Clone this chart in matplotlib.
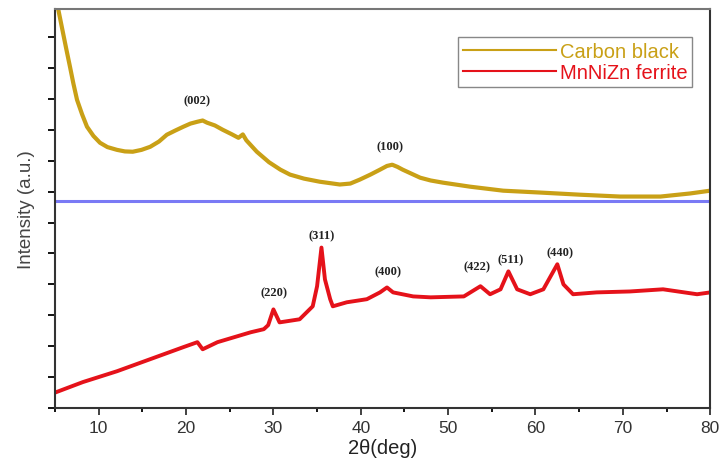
import matplotlib.pyplot as plt
from matplotlib.ticker import MultipleLocator, NullFormatter

plt.rcParams['font.family'] = ['Liberation Sans', 'DejaVu Sans']

# carbon black pattern (2theta, intensity a.u.)
cbAngle = [5.0, 5.34, 5.92, 6.3, 6.72, 7.1, 7.52, 8.1, 8.66, 9.4, 10.15, 11.0, 12.1,
           13.0, 13.9, 14.9, 15.9, 16.9, 17.8, 18.8, 19.7, 20.5, 21.3, 21.9, 22.4,
           23.3, 24.2, 25.2, 26.0, 26.5, 26.9, 28.1, 29.5, 30.8, 31.9, 33.5, 35.3,
           37.6, 38.8, 39.9, 41.1, 42.2, 43.0, 43.6, 44.2, 44.8, 45.8, 46.8, 48.0,
           49.4, 52.5, 56.3, 60.5, 65.1, 69.7, 74.3, 77.7, 80.0]
cbInt = [13.2, 12.94, 12.13, 11.6, 11.03, 10.5, 9.97, 9.5, 9.10, 8.8, 8.58, 8.44, 8.35,
         8.30, 8.29, 8.35, 8.45, 8.62, 8.84, 8.98, 9.10, 9.20, 9.26, 9.30, 9.23,
         9.14, 9.0, 8.86, 8.74, 8.85, 8.66, 8.29, 7.95, 7.71, 7.55, 7.42, 7.32,
         7.23, 7.26, 7.39, 7.55, 7.71, 7.83, 7.87, 7.80, 7.71, 7.58, 7.45, 7.36,
         7.29, 7.16, 7.03, 6.97, 6.90, 6.84, 6.84, 6.94, 7.03]

# MnNiZn ferrite pattern
fAngle = [5.2, 8.2, 12.1, 15.9, 19.7, 21.3, 21.9, 23.6, 27.4, 28.9, 29.4, 30.0,
          30.7, 33.0, 34.5, 35.0, 35.5, 35.9, 36.5, 36.8, 38.4, 40.7, 42.2, 43.0,
          43.7, 46.0, 48.0, 51.8, 53.7, 54.8, 56.0, 56.9, 57.9, 59.4, 60.9, 62.5,
          63.2, 64.3, 67.0, 70.8, 74.6, 78.5, 80.0]
fInt = [0.52, 0.84, 1.19, 1.58, 1.97, 2.13, 1.90, 2.13, 2.45, 2.55, 2.68, 3.19,
        2.77, 2.87, 3.29, 3.94, 5.19, 4.16, 3.52, 3.29, 3.42, 3.52, 3.74, 3.90,
        3.74, 3.61, 3.58, 3.61, 3.94, 3.68, 3.84, 4.42, 3.84, 3.68, 3.84, 4.65,
        4.0, 3.68, 3.74, 3.77, 3.84, 3.68, 3.74]

baseline = 6.71

cbLabels = ["(002)", "(100)"]
cbLabelPos = [(21.3, 9.97), (43.4, 8.48)]
fLabels = ["(220)", "(311)", "(400)", "(422)", "(511)", "(440)"]
fLabelPos = [(30.1, 3.74), (35.5, 5.58), (43.1, 4.42), (53.3, 4.58), (57.1, 4.81), (62.8, 5.03)]

gold = "#C9A016"
red = "#E5121A"

fig = plt.figure(figsize=(7.2, 4.64), dpi=100)
ax = fig.add_axes([0.0764, 0.1185, 0.91, 0.8595])

ax.plot(cbAngle, cbInt, color=gold, lw=3.0, label="Carbon black")
ax.plot(fAngle, fInt, color=red, lw=2.8, label="MnNiZn ferrite")
ax.axhline(baseline, color="#7A7AF5", lw=2.2)

for txt, (x, y) in zip(cbLabels + fLabels, cbLabelPos + fLabelPos):
    ax.text(x, y, txt, ha="center", va="center", fontsize=9,
            fontweight="bold", family="Liberation Serif", color="#222222")

ax.set_xlim(5, 80)
ax.set_ylim(0, 12.9)
ax.xaxis.set_major_locator(MultipleLocator(10))
ax.xaxis.set_minor_locator(MultipleLocator(5))
ax.yaxis.set_major_locator(MultipleLocator(1))
ax.yaxis.set_major_formatter(NullFormatter())
ax.tick_params(axis="x", which="major", length=5, width=1.3, labelsize=12.5, colors="#333333")
ax.tick_params(axis="x", which="minor", length=3, width=1.3)
ax.tick_params(axis="y", length=5, width=1.3)
for s in ax.spines.values():
    s.set_linewidth(1.5)
    s.set_color("#333333")
ax.spines["top"].set_color("#777777")

ax.set_xlabel("2\u03b8(deg)", fontsize=14.5, color="#222222", labelpad=2)
ax.set_ylabel("Intensity (a.u.)", fontsize=13.5, color="#444444", labelpad=6)

leg = ax.legend(loc="upper right", bbox_to_anchor=(0.988, 0.955), fontsize=14.5,
                handlelength=4.6, handletextpad=0.2, borderpad=0.25,
                labelspacing=0.1, fancybox=False, framealpha=1)
leg.get_frame().set_edgecolor("#888888")
leg.get_frame().set_linewidth(1.0)
for t, c in zip(leg.get_texts(), [gold, red]):
    t.set_color(c)
for h in leg.get_lines():
    h.set_linewidth(1.5)

fig.savefig("out.png", dpi=100)
